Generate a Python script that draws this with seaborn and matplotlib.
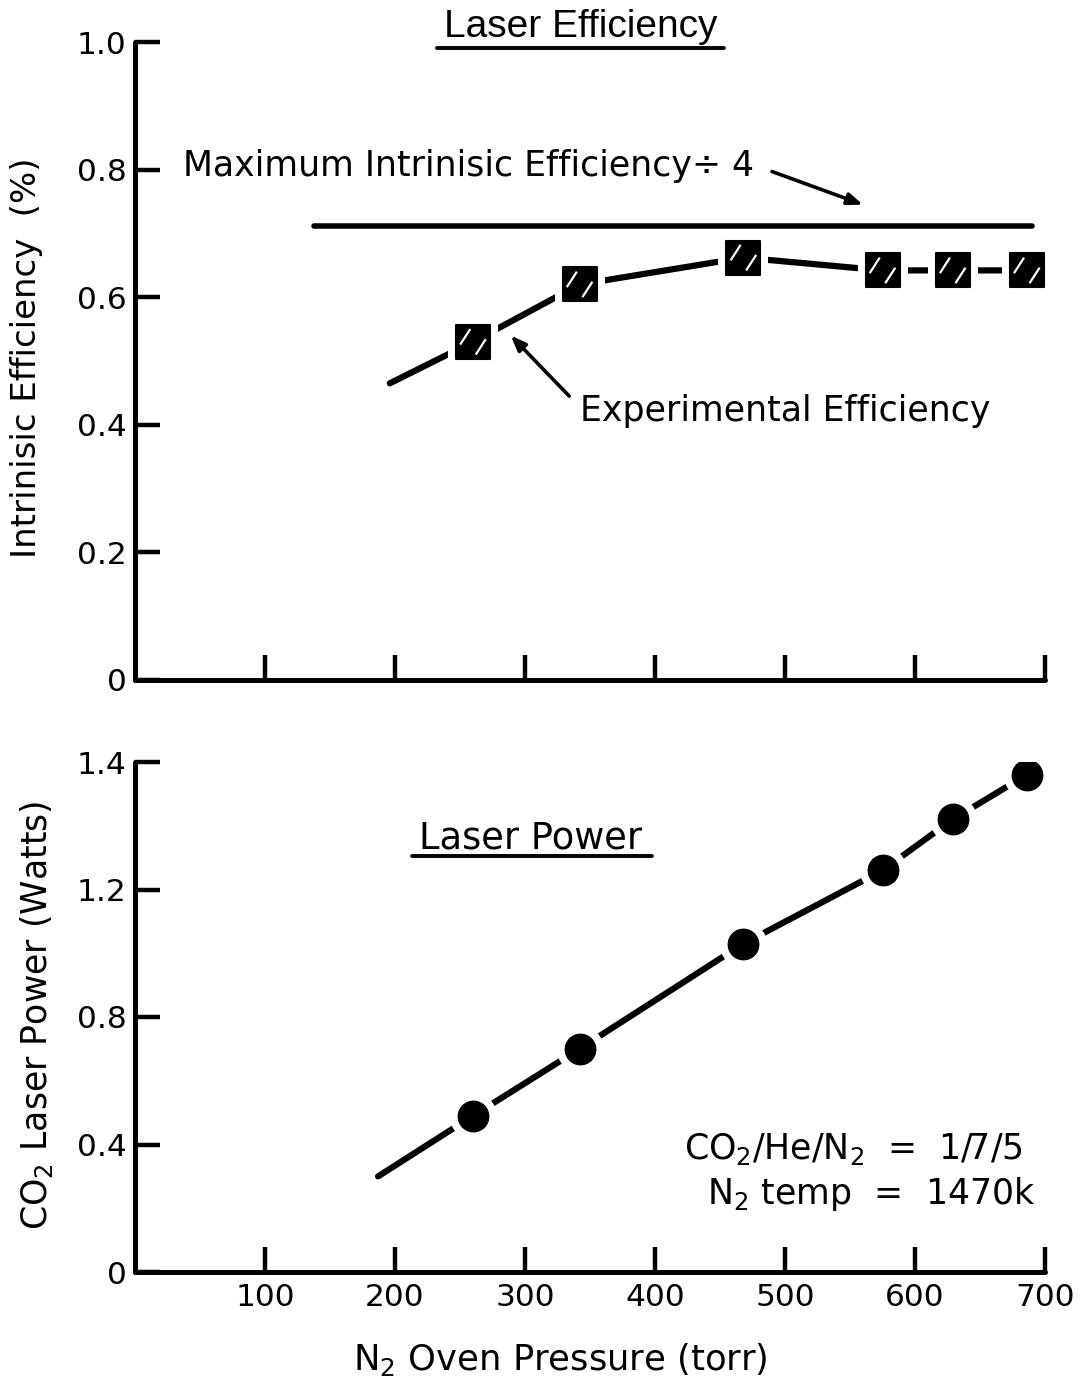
import matplotlib
matplotlib.use("Agg")
import matplotlib.pyplot as plt
import seaborn as sns
import pandas as pd
from matplotlib.lines import Line2D
from matplotlib.path import Path

# ---- data -------------------------------------------------------------
pressure = [260, 342, 468, 575, 629, 686]            # N2 oven pressure (torr)
efficiency = [0.53, 0.62, 0.662, 0.642, 0.642, 0.642]  # intrinsic efficiency (%)
power = [0.49, 0.70, 1.03, 1.26, 1.42, 1.56]          # CO2 laser power (axis units)

eff_fit_start_x, eff_fit_start_y = 196, 0.465
power_fit_start_x, power_fit_start_y = 187, 0.30

max_eff_level = 0.712
max_eff_span = [138, 690]

x_ticks = [100, 200, 300, 400, 500, 600, 700]
x_tick_labels = ["100", "200", "300", "400", "500", "600", "700"]
eff_ticks = [0, 0.2, 0.4, 0.6, 0.8, 1.0]
eff_tick_labels = ["0", "0.2", "0.4", "0.6", "0.8", "1.0"]
power_ticks = [0, 0.4, 0.8, 1.2, 1.6]
power_tick_labels = ["0", "0.4", "0.8", "1.2", "1.4"]

# ---- style ------------------------------------------------------------
sns.set_style("white")
plt.rcParams["font.family"] = ["DejaVu Sans"]
plt.rcParams["mathtext.fontset"] = "dejavusans"
plt.rcParams["text.color"] = "black"
plt.rcParams["axes.labelcolor"] = "black"
plt.rcParams["xtick.color"] = "black"
plt.rcParams["ytick.color"] = "black"

W, H = 1087, 1388
fig = plt.figure(figsize=(W / 100, H / 100), dpi=100)


def px_box(left, top, right, bottom):
    return [left / W, 1 - bottom / H, (right - left) / W, (bottom - top) / H]


ax1 = fig.add_axes(px_box(135, 42, 1045, 680))
ax2 = fig.add_axes(px_box(135, 762, 1045, 1272))

LW_AX = 3.6
FS_TICK = 22.5
FS_TEXT = 25
FS_LABEL = 24.5

for ax in (ax1, ax2):
    for s in ("top", "right"):
        ax.spines[s].set_visible(False)
    for s in ("left", "bottom"):
        ax.spines[s].set_linewidth(LW_AX)
        ax.spines[s].set_color("black")
        ax.spines[s].set_capstyle("round")
    ax.set_xlim(0, 700)
    ax.set_xticks(x_ticks)
    ax.tick_params(axis="both", which="major", direction="in", length=18,
                   width=3.2, color="black", labelsize=FS_TICK, pad=6,
                   bottom=True, left=True, top=False, right=False)
    ax.set_facecolor("white")

ax1.set_ylim(0, 1.0)
ax1.set_yticks(eff_ticks)
ax1.set_yticklabels(eff_tick_labels)
ax1.set_xticklabels([])

ax2.set_ylim(0, 1.6)
ax2.set_yticks(power_ticks)
ax2.set_yticklabels(power_tick_labels)
ax2.set_xticklabels(x_tick_labels)
ax2.tick_params(axis="x", pad=8)

# ---- efficiency panel -------------------------------------------------
eff_df = pd.DataFrame({"p": [eff_fit_start_x] + pressure,
                       "e": [eff_fit_start_y] + efficiency})
sns.lineplot(data=eff_df, x="p", y="e", ax=ax1, sort=False, estimator=None,
             color="black", linewidth=4.5, solid_capstyle="round", zorder=2)

max_df = pd.DataFrame({"p": max_eff_span, "e": [max_eff_level] * 2})
sns.lineplot(data=max_df, x="p", y="e", ax=ax1, estimator=None,
             color="black", linewidth=4, solid_capstyle="round", zorder=2)

pts_eff = pd.DataFrame({"p": pressure, "e": efficiency})
# white halo gives the line a break around each marker
sns.scatterplot(data=pts_eff, x="p", y="e", ax=ax1, marker="s", s=1300,
                color="white", edgecolor="white", linewidth=0, zorder=3)
sns.scatterplot(data=pts_eff, x="p", y="e", ax=ax1, marker="s", s=600,
                color="black", edgecolor="black", linewidth=1.5, zorder=4)
slash = Path([(-0.7, -0.15), (-0.15, 0.7), (0.15, -0.7), (0.7, 0.15)],
             [Path.MOVETO, Path.LINETO, Path.MOVETO, Path.LINETO])
sns.scatterplot(data=pts_eff, x="p", y="e", ax=ax1, marker=slash, s=340,
                facecolor="none", edgecolor="white", linewidth=1.6, zorder=5)

ax1.set_xlabel("")
ax1.set_ylabel("")

ax1.text(37, 0.805, "Maximum Intrinisic Efficiency\u00f7 4", fontsize=FS_TEXT,
         ha="left", va="center")
ax1.annotate("", xy=(560, 0.745), xytext=(490, 0.797),
             arrowprops=dict(arrowstyle="-|>,head_length=0.9,head_width=0.35",
                             lw=2.6, color="black", shrinkA=0, shrinkB=0))
ax1.text(342, 0.422, "Experimental Efficiency", fontsize=FS_TEXT,
         ha="left", va="center")
ax1.annotate("", xy=(289, 0.54), xytext=(334, 0.445),
             arrowprops=dict(arrowstyle="-|>,head_length=0.9,head_width=0.35",
                             lw=2.6, color="black", shrinkA=0, shrinkB=0))

# ---- power panel ------------------------------------------------------
pow_df = pd.DataFrame({"p": [power_fit_start_x] + pressure,
                       "w": [power_fit_start_y] + power})
sns.lineplot(data=pow_df, x="p", y="w", ax=ax2, sort=False, estimator=None,
             color="black", linewidth=4.5, solid_capstyle="round", zorder=2)
pts_pow = pd.DataFrame({"p": pressure, "w": power})
sns.scatterplot(data=pts_pow, x="p", y="w", ax=ax2, marker="o", s=1150,
                color="white", edgecolor="white", linewidth=0, zorder=3)
sns.scatterplot(data=pts_pow, x="p", y="w", ax=ax2, marker="o", s=480,
                color="black", edgecolor="black", linewidth=1, zorder=4)
ax2.set_xlabel("")
ax2.set_ylabel("")

ax2.text(683, 0.385, "CO$_2$/He/N$_2$  =  1/7/5", fontsize=FS_TEXT,
         ha="right", va="center")
ax2.text(693, 0.245, "N$_2$ temp  =  1470k", fontsize=FS_TEXT,
         ha="right", va="center")

# ---- titles and axis labels ------------------------------------------
fig.text(581 / W, 1 - 27 / H, "Laser Efficiency", fontsize=28,
         family="Liberation Sans", ha="center", va="center")
fig.add_artist(Line2D([437 / W, 724 / W], [1 - 48 / H] * 2, color="black",
                      lw=2.8, transform=fig.transFigure))
fig.text(531 / W, 1 - 838 / H, "Laser Power", fontsize=26.5,
         ha="center", va="center")
fig.add_artist(Line2D([412 / W, 652 / W], [1 - 856 / H] * 2, color="black",
                      lw=2.8, transform=fig.transFigure))

fig.text(27 / W, 1 - 358 / H, "Intrinisic Efficiency  (%)", fontsize=FS_LABEL,
         rotation=90, ha="center", va="center")
fig.text(37 / W, 1 - 1015 / H, "CO$_2$ Laser Power (Watts)", fontsize=25,
         rotation=90, ha="center", va="center")
fig.text(560 / W, 1 - 1360 / H, "N$_2$ Oven Pressure (torr)", fontsize=25.5,
         ha="center", va="center")

fig.savefig("out.png", dpi=100, facecolor="white")
